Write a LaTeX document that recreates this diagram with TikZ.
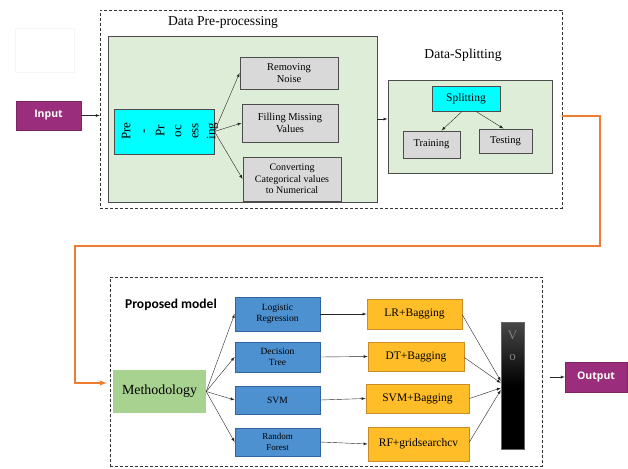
\documentclass[tikz,border=0pt]{standalone}
\usepackage{fontspec}
\setmainfont{Liberation Serif}
\newfontfamily\termfont{Open Sans}
\newfontfamily\headfont{Carlito}

\definecolor{boxgreen}{RGB}{222,237,216}
\definecolor{boxgray}{RGB}{217,217,217}
\definecolor{splitcyan}{RGB}{0,255,255}
\definecolor{termpurple}{RGB}{155,45,125}
\definecolor{algoblue}{RGB}{78,145,208}
\definecolor{algoedge}{RGB}{50,100,160}
\definecolor{bagorange}{RGB}{255,190,40}
\definecolor{bagedge}{RGB}{200,140,40}
\definecolor{methgreen}{RGB}{168,210,143}
\definecolor{flowline}{RGB}{237,125,49}

\tikzset{
  >=latex,
  dashframe/.style={draw=black!80, dashed, dash pattern=on 3pt off 2pt, thin},
  greenpanel/.style={draw=black!70, fill=boxgreen, line width=0.9pt},
  greyrect/.style={draw=black!70, fill=boxgray, line width=0.9pt, align=center,
    inner sep=1pt, font=\fontsize{10.5}{11.5}\selectfont},
  cyanrect/.style={draw=black!70, fill=splitcyan, line width=0.9pt, align=center,
    font=\fontsize{11.5}{13}\selectfont},
  termrect/.style={fill=termpurple, draw=termpurple!80!black, text=white,
    font=\termfont\bfseries\fontsize{10.5}{12}\selectfont},
  algorect/.style={fill=algoblue, draw=algoedge, line width=0.8pt, align=center,
    inner sep=1pt, font=\fontsize{9.5}{11}\selectfont},
  bagrect/.style={fill=bagorange, draw=bagedge, line width=0.8pt,
    font=\fontsize{11.5}{13}\selectfont},
  heading/.style={font=\fontsize{13.6}{15}\selectfont},
  link/.style={->, thin, black!85},
}

\begin{document}
\begin{tikzpicture}[x=1pt,y=-1pt]
\useasboundingbox (0,0) rectangle (628,468);

% faint box at the top left
\draw[black!4] (15,28) rectangle (74,72);

% data pre-processing and splitting
\node[dashframe, minimum width=462pt, minimum height=198pt] (upframe) at (331,109) {};
\node[heading] (prelabel) at (223,22) {Data Pre-processing};
\node[greenpanel, minimum width=269pt, minimum height=166pt] (prepanel) at (242.5,119) {};
\node[cyanrect, minimum width=100pt, minimum height=45pt] (prep) at (164,131.5) {};
\node[rotate=90, align=center, inner sep=0pt,
  font=\fontsize{13}{17}\selectfont] (preptext) at (170,131) {Pre\\-\\Pr\\oc\\ess\\ing};
\node[greyrect, minimum width=98pt, minimum height=32pt] (noise) at (289,73) {Removing\\Noise};
\node[greyrect, minimum width=96pt, minimum height=38pt] (missing) at (290,123) {Filling Missing\\Values};
\node[greyrect, minimum width=98pt, minimum height=44pt, font=\fontsize{10}{11.5}\selectfont]
  (convert) at (292,179) {Converting\\Categorical values\\to Numerical};

\node[heading] (splitlabel) at (463,55) {Data-Splitting};
\node[greenpanel, minimum width=164pt, minimum height=93pt] (splitpanel) at (470,126.5) {};
\node[cyanrect, minimum width=68pt, minimum height=25pt] (split) at (466,98.5) {Splitting};
\node[greyrect, minimum width=57pt, minimum height=27pt] (train) at (431.5,144.5) {Training};
\node[greyrect, minimum width=53pt, minimum height=24pt] (test) at (505.5,141) {Testing};

\draw[link] (prep.east) -- (noise.west);
\draw[link] (prep.east) -- (missing.west);
\draw[link] (prep.east) -- (convert.west);
\draw[link] (prepanel.east) -- (prepanel.east -| splitpanel.west);
\draw[link] ([xshift=-4pt]split.south) -- ([xshift=10pt]train.north);
\draw[link] ([xshift=10pt]split.south) -- ([xshift=-2pt]test.north);

% input
\node[termrect, minimum width=65pt, minimum height=29pt] (input) at (48.5,115.5) {Input};
\draw[link] (input.east) -- (input.east -| upframe.west);

% proposed model
\node[dashframe, minimum width=432pt, minimum height=189pt] (lowframe) at (326,371.5) {};
\node[font=\headfont\bfseries\fontsize{13.5}{15}\selectfont] (modellabel) at (171,305) {Proposed model};
\node[fill=methgreen, minimum width=93pt, minimum height=43pt,
  font=\fontsize{13.9}{15}\selectfont] (method) at (159.5,391.5) {Methodology};

\node[algorect, minimum width=85pt, minimum height=34pt] (logreg) at (277.5,314) {Logistic\\Regression};
\node[algorect, minimum width=85pt, minimum height=30pt] (dtree) at (277.5,357) {Decision\\Tree};
\node[algorect, minimum width=85pt, minimum height=28pt] (svm) at (277.5,400) {SVM};
\node[algorect, minimum width=85pt, minimum height=28pt, font=\fontsize{9}{10.5}\selectfont]
  (rforest) at (277.5,442) {Random\\Forest};

\node[bagrect, minimum width=95pt, minimum height=30pt] (lrbag) at (414.5,314) {LR+Bagging};
\node[bagrect, minimum width=96pt, minimum height=29pt] (dtbag) at (416,356.5) {DT+Bagging};
\node[bagrect, minimum width=103pt, minimum height=29pt] (svmbag) at (417.5,398.5) {SVM+Bagging};
\node[bagrect, minimum width=101pt, minimum height=34pt] (rfgrid) at (418.5,444) {RF+gridsearchcv};

\node[draw=black!60, minimum width=23pt, minimum height=127pt,
  top color=black!72, bottom color=black, middle color=black] (vote) at (512.5,385.5) {};
\node[align=center, text=black!50, anchor=north, inner sep=0pt,
  font=\fontsize{13}{21}\selectfont] (votetext) at ([yshift=-9pt]vote.north) {V\\o};

\foreach \algo in {logreg,dtree,svm,rforest}
  \draw[link] (method.east) -- (\algo.west);
\draw[link] (logreg.east) -- (lrbag.west);
\draw[link] (dtree.east) -- (dtbag.west);
\draw[link] (svm.east) -- (svmbag.west);
\draw[link] (rforest.east) -- (rfgrid.west);
\draw[link] ([yshift=-1pt]lrbag.east) -- ([yshift=4.5pt]vote.west);
\draw[link] ([yshift=-1pt]dtbag.east) -- ([yshift=2.5pt]vote.west);
\draw[link] (svmbag.east) -- ([yshift=-2.5pt]vote.west);
\draw[link] ([yshift=2pt]rfgrid.east) -- ([yshift=-4.5pt]vote.west);

% output
\node[termrect, minimum width=62pt, minimum height=30pt] (output) at (596,377) {Output};
\coordinate (outtail) at (550,377);
\draw[link] (outtail) -- (output.west);

% orange flow between the two frames
\coordinate (bendA) at (600,246);
\coordinate (bendB) at (75,246);
\draw[->, flowline, line width=1.4pt] ([yshift=-7pt]upframe.east) -| (bendA) -- (bendB)
  |- ([yshift=-11.5pt,xshift=-3pt]lowframe.west);
\end{tikzpicture}
\end{document}
